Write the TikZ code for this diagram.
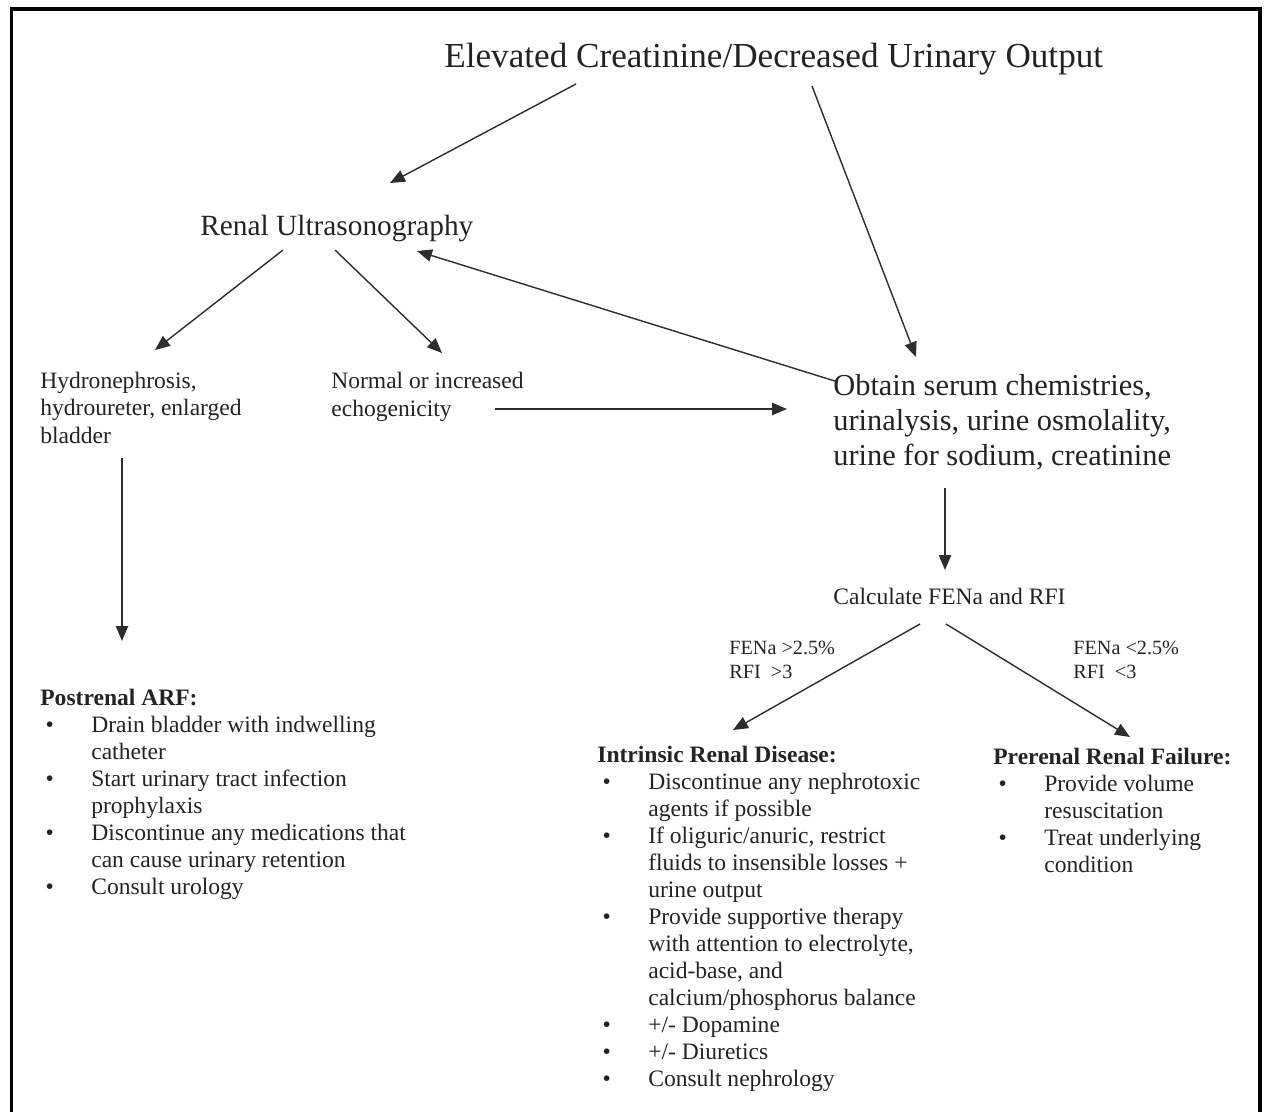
\documentclass[tikz,border=0pt]{standalone}
\usepackage{fontspec}
\setmainfont{Liberation Serif}
\usepackage{tikz}
\usetikzlibrary{arrows.meta, calc}
\definecolor{mydark}{RGB}{35,35,35}
\definecolor{myline}{RGB}{45,45,45}
\tikzset{
  titletext/.style={anchor=base west, inner sep=0pt, text=mydark,
    font=\fontsize{20}{24}\selectfont},
  bigtext/.style={anchor=base west, inner sep=0pt, text=mydark, align=left,
    font=\fontsize{17.3}{19.8}\selectfont},
  bodytext/.style={anchor=base west, inner sep=0pt, text=mydark, align=left,
    font=\fontsize{13.4}{15.4}\selectfont},
  smalltext/.style={anchor=base west, inner sep=0pt, text=mydark, align=left,
    font=\fontsize{11.5}{13.6}\selectfont},
  arrow/.style={-{Triangle[length=8.5pt,width=7pt]}, line width=0.8pt, color=myline},
  frame/.style={line width=2pt, color=black, line join=miter}
}
\newcommand{\bul}{\hspace*{3pt}\textbullet}

\begin{document}
\begin{tikzpicture}[x=0.2mm, y=-0.2mm]
  \useasboundingbox (0,0) rectangle (1264,1112);
  \draw[frame] (11.5,1112) -- (11.5,9) -- (1260,9) -- (1260,1112);

  % top of the chart (multi-line nodes sit on their last line)
  \node[titletext] (title) at (444,67) {Elevated Creatinine/Decreased Urinary Output};
  \node[bigtext, font=\fontsize{16.7}{19.8}\selectfont] (us) at (200,235) {Renal Ultrasonography};
  \node[bodytext] (hydro) at (40,443) {Hydronephrosis,\\hydroureter, enlarged\\bladder};
  \node[bodytext] (normal) at (331,416) {Normal or increased\\echogenicity};
  \node[bigtext] (obtain) at (833,465) {Obtain serum chemistries,\\urinalysis, urine osmolality,\\urine for sodium, creatinine};
  \node[bodytext] (calc) at (833,604) {Calculate FENa and RFI};
  \node[smalltext] (fhigh) at (729,678) {FENa >2.5\%\\RFI \ >3};
  \node[smalltext] (flow) at (1073,678) {FENa <2.5\%\\RFI \ <3};

  % treatment blocks
  \node[bodytext] (post) at (40,705) {%
    \begin{tabular}[t]{@{}p{29pt}@{}l@{}}
      \multicolumn{2}{@{}l@{}}{\textbf{Postrenal ARF:}}\\
      \bul & Drain bladder with indwelling\\
           & catheter\\
      \bul & Start urinary tract infection\\
           & prophylaxis\\
      \bul & Discontinue any medications that\\
           & can cause urinary retention\\
      \bul & Consult urology
    \end{tabular}};
  \node[bodytext] (intr) at (597,762) {%
    \begin{tabular}[t]{@{}p{29pt}@{}l@{}}
      \multicolumn{2}{@{}l@{}}{\textbf{Intrinsic Renal Disease:}}\\
      \bul & Discontinue any nephrotoxic\\
           & agents if possible\\
      \bul & If oliguric/anuric, restrict\\
           & fluids to insensible losses +\\
           & urine output\\
      \bul & Provide supportive therapy\\
           & with attention to electrolyte,\\
           & acid-base, and\\
           & calcium/phosphorus balance\\
      \bul & +/- Dopamine\\
      \bul & +/- Diuretics\\
      \bul & Consult nephrology
    \end{tabular}};
  \node[bodytext] (pre) at (993,764) {%
    \begin{tabular}[t]{@{}p{29pt}@{}l@{}}
      \multicolumn{2}{@{}l@{}}{\textbf{Prerenal Renal Failure:}}\\
      \bul & Provide volume\\
           & resuscitation\\
      \bul & Treat underlying\\
           & condition
    \end{tabular}};

  % arrows
  \draw[arrow] ($(title.base west)+(132,17)$) -- ($(us.base west)+(190,-52)$);
  \draw[arrow] ($(title.base west)+(368,19)$) -- ($(obtain.base west)+(83,-108)$);
  \draw[arrow] ($(obtain.base west)+(5,-83)$) -- ($(us.base west)+(217,16)$);
  \draw[arrow] ($(us.base west)+(83,15)$) -- ($(hydro.base west)+(115,-93)$);
  \draw[arrow] ($(us.base west)+(135,15)$) -- ($(normal.base west)+(111,-63)$);
  \draw[arrow] ($(normal.base west)+(164,-7)$) -- ($(obtain.base west)+(-46,-56)$);
  \draw[arrow] ($(hydro.base west)+(82,15)$) -- ($(post.base west)+(82,-64)$);
  \draw[arrow] ($(obtain.base west)+(112,23)$) -- ($(calc.base west)+(112,-34)$);
  \draw[arrow] ($(calc.base west)+(87,20)$) -- ($(intr.base west)+(136,-32)$);
  \draw[arrow] ($(calc.base west)+(113,20)$) -- ($(pre.base west)+(137,-27)$);
\end{tikzpicture}
\end{document}
